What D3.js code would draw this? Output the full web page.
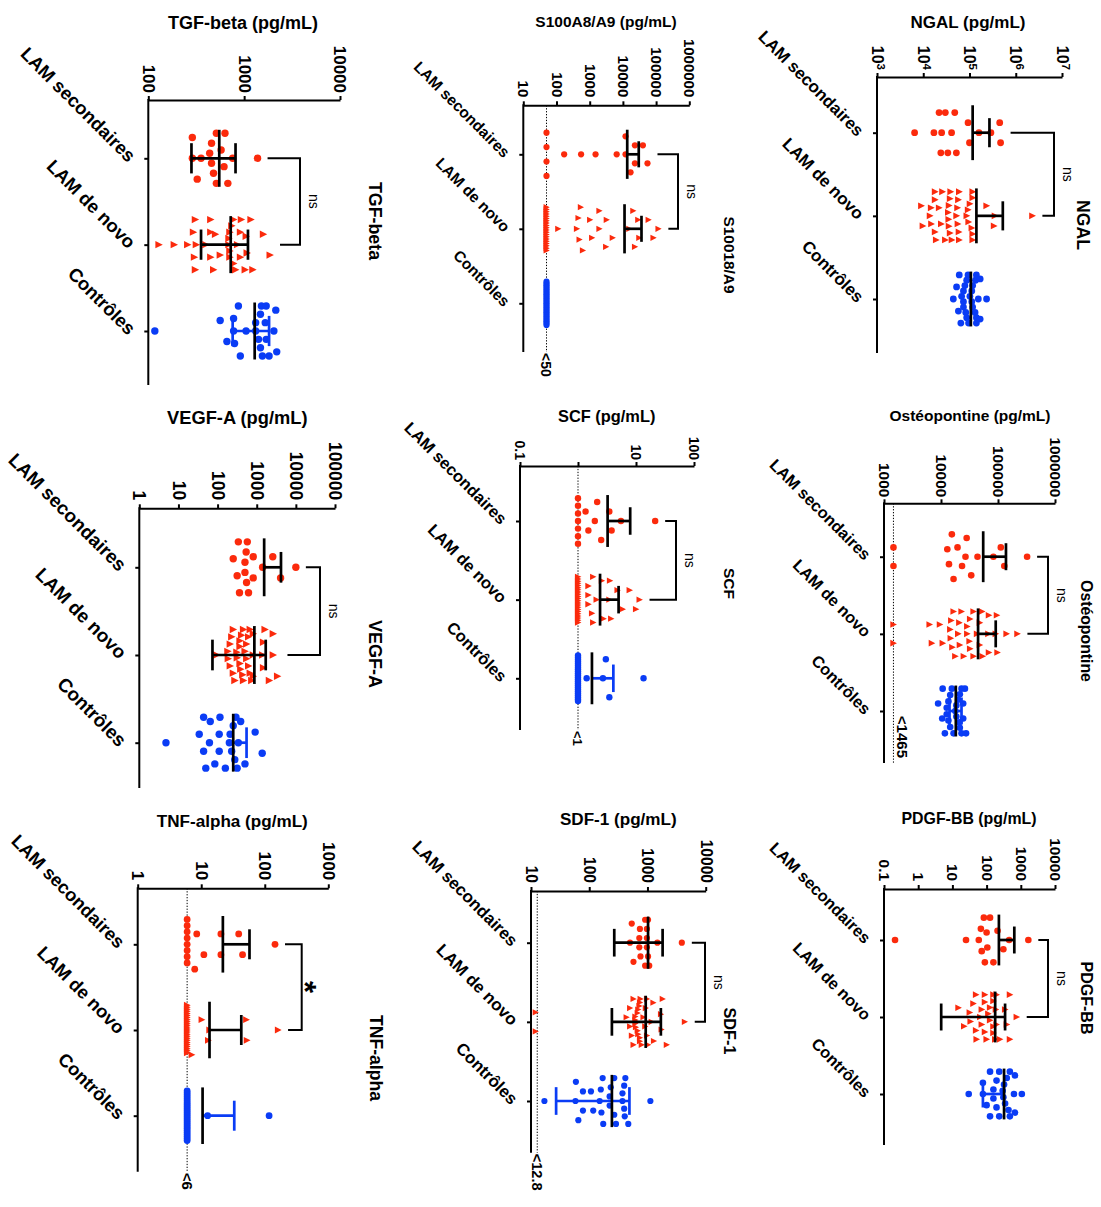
<!DOCTYPE html>
<html><head><meta charset="utf-8">
<script src="https://cdn.jsdelivr.net/npm/d3@7"></script>
<style>body{margin:0;background:#fff}svg{display:block}text{font-family:"Liberation Sans",Arial,Helvetica,sans-serif}</style>
</head><body><svg id="chart" width="1101" height="1207"></svg>
<script>
const categories = ["LAM secondaires", "LAM de novo", "Contrôles"];

// ---------- NGAL ----------
const ngalTicks = [1e3, 1e4, 1e5, 1e6, 1e7];
const ngalTickLabels = ["10^3", "10^4", "10^5", "10^6", "10^7"];
const ngalSecondaires = [24000, 52000, 41000, 17000, 93000, 450000, 6500, 30000, 160000, 290000, 22000, 100000, 470000, 34000, 25000, 48000];
const ngalDeNovo = [15000, 26000, 55000, 60000, 112000, 14000, 22000, 38000, 59000, 117000, 355000, 36000, 56000, 102000, 9100, 18000, 35500, 87000, 234000, 19000, 38000, 93000, 2290000, 9800, 18000, 34700, 57500, 95500, 117000, 36000, 14800, 24500, 39000, 117000, 339000, 41700, 18000, 30000, 52500, 60000, 117000];
const ngalControles = [83000, 132000, 234000, 74000, 117000, 65000, 93000, 155000, 57500, 87000, 135000, 44700, 74000, 112000, 52500, 87000, 141000, 60000, 95500, 141000, 67600, 102000, 141000, 74000, 112000, 170000, 79400, 117000, 170000];
const ngalStats = [[117000, null, 270000], [141000, null, 525000], [107000, null, null]]; // [centre, bas, haut]

// ---------- S100A8/A9 ----------
const s100Ticks = [10, 100, 1000, 10000, 100000, 1000000];
const s100TickLabels = ["10", "100", "1000", "10000", "100000", "1000000"];
const s100Secondaires = [50, 50, 50, 50, 170, 550, 1500, 6500, 23000, 12000, 40000, 12000, 55000, 17000, 23000];
const s100DeNovo = [50, 50, 50, 50, 50, 50, 50, 50, 50, 50, 50, 50, 50, 50, 50, 50, 50, 50, 50, 50, 620, 1950, 23000, 490, 1020, 3100, 15500, 59000, 112, 410, 4900, 31000, 117000, 457, 1175, 3240, 20400, 83000, 537, 1950, 28800];
const s100Controles = [50, 50, 50, 50, 50, 50, 50, 50, 50, 50, 50, 50, 50, 50, 50, 50, 50, 50, 50, 50, 50, 50, 50, 50, 50];
const s100Stats = [[13500, null, 30000], [11200, null, 36300], null];

// ---------- TGF-beta ----------
const tgfTicks = [100, 1000, 10000];
const tgfTickLabels = ["100", "1000", "10000"];
const tgfSecondaires = [324, 513, 759, 457, 631, 288, 437, 575, 1380, 288, 457, 617, 479, 355, 513, 676];
const tgfDeNovo = [316, 501, 708, 933, 1175, 912, 302, 447, 692, 851, 1047, 1585, 309, 447, 562, 776, 1023, 129, 186, 257, 398, 708, 1862, 776, 295, 447, 692, 813, 708, 1072, 309, 479, 741, 912, 1230];
const tgfControles = [912, 1318, 1698, 1660, 2188, 794, 1514, 562, 117, 776, 1047, 1479, 2042, 661, 1549, 776, 2138, 1698, 871, 1318, 1820, 1413, 1479];
const tgfStats = [[550, 282, 813], [724, 355, 1096], [1288, 759, 1820]];

// ---------- Ostéopontine ----------
const ostTicks = [1000, 10000, 100000, 1000000];
const ostTickLabels = ["1000", "10000", "100000", "1000000"];
const ostSecondaires = [1465, 1465, 15500, 26900, 12900, 19500, 33900, 112000, 83000, 324000, 13800, 23400, 43700, 129000, 16600, 28200];
const ostDeNovo = [1465, 1465, 14800, 20000, 32400, 47900, 91200, 14500, 28800, 97700, 15800, 32400, 69200, 6300, 9550, 22900, 37200, 21400, 47900, 67600, 141000, 219000, 10700, 25100, 42700, 6900, 17800, 28800, 69200, 16600, 31600, 52500, 15100, 20900, 37200, 53700, 95500];
const ostControles = [10700, 20900, 26300, 14500, 22900, 8900, 13500, 21400, 24500, 12600, 18600, 14500, 10500, 22900, 16600, 24500, 12600, 18600, 27500, 15500, 21400, 13500, 17800, 20000, 11700];
const ostStats = [[55000, null, 138000], [44700, null, 91200], [18200, 14100, 22900]];

// ---------- SCF ----------
const scfTicks = [0.1, 1, 10, 100];
const scfTickLabels = ["0.1", "", "10", "100"];
const scfSecondaires = [1, 1, 1, 1, 1, 1, 1, 1.95, 2.14, 3.47, 1.35, 5.5, 21.4, 2.51, 3.8, 1.51];
const scfDeNovo = [1, 1, 1, 1, 1, 1, 1, 1, 1, 1, 1, 1, 1, 1, 1, 1, 1, 1, 1, 1, 1, 1, 2.09, 3.55, 1.82, 2.75, 5.89, 7.76, 1.51, 1.51, 3.72, 11.5, 1.51, 2.57, 10, 1.74, 4.79, 3.47, 1.82];
const scfControles = [1, 1, 1, 1, 1, 1, 1, 1, 1, 1, 1, 1, 1, 1, 1, 1, 1, 1, 1, 1, 1, 1, 1, 1, 1.41, 2.69, 3.47, 3.02, 13.5];
const scfStats = [[3.24, null, 7.94], [2.40, null, 5.01], [1.74, null, 4.07]];

// ---------- VEGF-A ----------
const vegfTicks = [1, 10, 100, 1000, 10000, 100000];
const vegfTickLabels = ["1", "10", "100", "1000", "10000", "100000"];
const vegfSecondaires = [501, 813, 339, 575, 251, 537, 2570, 1413, 10000, 316, 550, 4074, 363, 617, 501, 813];
const vegfDeNovo = [182, 437, 813, 1413, 2630, 372, 676, 251, 550, 95, 372, 2089, 229, 501, 209, 372, 813, 1479, 251, 617, 2630, 209, 316, 617, 407, 1479, 186, 389, 741, 1622, 3388, 309, 457, 676, 550, 813, 275, 457];
const vegfControles = [62, 158, 339, 44, 110, 275, 912, 34, 200, 4.8, 85, 501, 44, 209, 1380, 50, 110, 316, 65, 115, 389, 251, 229, 295];
const vegfStats = [[1549, null, 4169], [871, 74, 1698], [251, null, 550]];

// ---------- PDGF-BB ----------
const pdgfTicks = [0.1, 1, 10, 100, 1000, 10000];
const pdgfTickLabels = ["0.1", "1", "10", "100", "1000", "10000"];
const pdgfSecondaires = [100, 158, 89, 83, 126, 309, 0.21, 25, 59, 1660, 68, 457, 72, 105, 209];
const pdgfDeNovo = [49, 89, 186, 347, 158, 72, 759, 32, 158, 22, 65, 126, 15, 41, 100, 195, 479, 72, 158, 34, 195, 49, 89, 158, 479, 51, 89, 178, 389, 126, 245, 112];
const pdgfControles = [158, 324, 676, 100, 234, 479, 78, 195, 676, 30, 126, 437, 78, 195, 1072, 126, 234, 479, 158, 309, 631, 295, 347, 389];
const pdgfStats = [[229, null, 646], [178, 4.7, 347], [324, 78, null]];

// ---------- SDF-1 ----------
const sdfTicks = [10, 100, 1000, 10000];
const sdfTickLabels = ["10", "100", "1000", "10000"];
const sdfSecondaires = [759, 977, 724, 1023, 575, 912, 501, 1023, 1479, 3890, 537, 977, 724, 977, 741, 912, 1072];
const sdfDeNovo = [12, 12, 676, 912, 1288, 1820, 617, 741, 575, 724, 501, 1023, 1698, 692, 537, 437, 741, 977, 4365, 575, 741, 617, 1175, 1738, 617, 794, 676, 977, 692, 1259, 2138, 501, 851, 631, 759, 933];
const sdfControles = [78, 224, 372, 407, 65, 162, 269, 398, 107, 151, 234, 372, 17, 58, 174, 1122, 117, 158, 269, 417, 59, 170, 288, 78, 224, 398, 468];
const sdfStats = [[1023, 269, 1820], [933, 245, 1698], [245, 27, 490]];

// ---------- TNF-alpha ----------
const tnfTicks = [1, 10, 100, 1000];
const tnfTickLabels = ["1", "10", "100", "1000"];
const tnfSecondaires = [6, 6, 6, 6, 6, 6, 6, 6, 7.9, 8.5, 11, 20.4, 38.9, 20.4, 44.7, 145];
const tnfDeNovo = [6, 6, 6, 6, 6, 6, 6, 6, 6, 6, 6, 6, 6, 6, 6, 6, 6, 6, 6, 6, 6, 6, 6, 6, 7.1, 13.5, 10.2, 12.9, 51.3, 52.5, 162];
const tnfControles = [6, 6, 6, 6, 6, 6, 6, 6, 6, 6, 6, 6, 6, 6, 6, 6, 6, 6, 6, 6, 6, 6, 6, 6, 6, 6, 12.6, 117];
const tnfStats = [[21.9, null, 57.5], [13.5, null, 42.7], [10.5, null, 33.1]];

// ---------- panels ----------
const panels = [
  {key: "ngal", title: "NGAL (pg/mL)", side: "NGAL", ticks: ngalTicks, labels: ngalTickLabels, groups: [ngalSecondaires, ngalDeNovo, ngalControles], stats: ngalStats, sig: "ns", lod: null},
  {key: "s100", title: "S100A8/A9 (pg/mL)", side: "S10018/A9", ticks: s100Ticks, labels: s100TickLabels, groups: [s100Secondaires, s100DeNovo, s100Controles], stats: s100Stats, sig: "ns", lod: {value: 50, label: "<50"}},
  {key: "tgf", title: "TGF-beta (pg/mL)", side: "TGF-beta", ticks: tgfTicks, labels: tgfTickLabels, groups: [tgfSecondaires, tgfDeNovo, tgfControles], stats: tgfStats, sig: "ns", lod: null},
  {key: "ost", title: "Ostéopontine (pg/mL)", side: "Ostéopontine", ticks: ostTicks, labels: ostTickLabels, groups: [ostSecondaires, ostDeNovo, ostControles], stats: ostStats, sig: "ns", lod: {value: 1465, label: "<1465"}},
  {key: "scf", title: "SCF (pg/mL)", side: "SCF", ticks: scfTicks, labels: scfTickLabels, groups: [scfSecondaires, scfDeNovo, scfControles], stats: scfStats, sig: "ns", lod: {value: 1, label: "<1"}},
  {key: "vegf", title: "VEGF-A (pg/mL)", side: "VEGF-A", ticks: vegfTicks, labels: vegfTickLabels, groups: [vegfSecondaires, vegfDeNovo, vegfControles], stats: vegfStats, sig: "ns", lod: null},
  {key: "pdgf", title: "PDGF-BB (pg/mL)", side: "PDGF-BB", ticks: pdgfTicks, labels: pdgfTickLabels, groups: [pdgfSecondaires, pdgfDeNovo, pdgfControles], stats: pdgfStats, sig: "ns", lod: null},
  {key: "sdf", title: "SDF-1 (pg/mL)", side: "SDF-1", ticks: sdfTicks, labels: sdfTickLabels, groups: [sdfSecondaires, sdfDeNovo, sdfControles], stats: sdfStats, sig: "ns", lod: {value: 12.8, label: "<12.8"}},
  {key: "tnf", title: "TNF-alpha (pg/mL)", side: "TNF-alpha", ticks: tnfTicks, labels: tnfTickLabels, groups: [tnfSecondaires, tnfDeNovo, tnfControles], stats: tnfStats, sig: "*", lod: {value: 6, label: "<6"}}
];

// ---------- layout (positions / sizes) ----------
const layouts = {
  ngal: {x0: 877, x1: 1062, axisY: 77, bottom: 353, c0: 132.7, c2: 299, title: [968, 28.3, 17], tickFont: 16, tickOff: 7, catFont: 17, side: [1083, 225, 17.6], bracketX: 1054, r: 3.4},
  s100: {x0: 523.3, x1: 689.3, axisY: 105.3, bottom: 352, c0: 154.3, c2: 303.3, title: [606, 26.7, 15.5], tickFont: 15, tickOff: 8, catFont: 15.5, side: [730, 255, 15.4], bracketX: 678, r: 3.1, lodFont: 14, lodMode: "below"},
  tgf: {x0: 148.3, x1: 340, axisY: 100, bottom: 385, c0: 158.3, c2: 331, title: [243, 29.3, 18], tickFont: 17, tickOff: 7, catFont: 18.5, side: [375, 221, 17.8], bracketX: 300, r: 3.7},
  ost: {x0: 884, x1: 1055, axisY: 503.3, bottom: 763, c0: 556.7, c2: 711, title: [970, 420.7, 15.5], tickFont: 15.4, tickOff: 6, catFont: 16.3, side: [1087, 631, 15.8], bracketX: 1048, r: 3.3, lodFont: 15, lodMode: "inside"},
  scf: {x0: 520, x1: 694, axisY: 466, bottom: 730, c0: 521, c2: 678.3, title: [606.7, 422.3, 16.4], tickFont: 14, tickOff: 6, catFont: 16.5, side: [730, 583.5, 15.5], bracketX: 676, r: 3.2, lodFont: 13, lodMode: "below"},
  vegf: {x0: 139.3, x1: 335, axisY: 508.3, bottom: 788, c0: 567.3, c2: 742.7, title: [237.3, 424.3, 18.3], tickFont: 17.5, tickOff: 8, catFont: 19, side: [375, 654, 18], bracketX: 320, r: 3.7},
  pdgf: {x0: 884, x1: 1055, axisY: 889, bottom: 1145, c0: 940, c2: 1094, title: [969, 824.3, 15.9], tickFont: 15.4, tickOff: 8, catFont: 16.3, side: [1086.7, 998, 16], bracketX: 1048, r: 3.3},
  sdf: {x0: 531, x1: 705.7, axisY: 891, bottom: 1152.7, c0: 942.7, c2: 1101, title: [618.3, 825, 17.1], tickFont: 15.6, tickOff: 8, catFont: 17, side: [730, 1031, 16.3], bracketX: 705, r: 3.1, lodFont: 14.6, lodMode: "below"},
  tnf: {x0: 137.7, x1: 328.3, axisY: 888.3, bottom: 1171.7, c0: 944.3, c2: 1115.7, title: [232.3, 826.7, 17.1], tickFont: 17.2, tickOff: 8, catFont: 18.3, side: [376.7, 1058, 17.6], bracketX: 301.7, r: 3.4, lodFont: 15, lodMode: "below"}
};

const RED = "#fb2a0c", BLUE = "#0a3cf5";
const svg = d3.select("#chart");

function swarm(values, x, yc, W, bw) {
  const pts = values.map(v => ({v, px: x(v)})).sort((a, b) => a.px - b.px);
  const bins = [];
  let cur = null;
  pts.forEach(p => {
    if (!cur || p.px - cur.start > bw) { cur = {start: p.px, items: []}; bins.push(cur); }
    cur.items.push(p);
  });
  const out = [];
  bins.forEach(b => {
    const n = b.items.length;
    const s = n > 1 ? Math.min(W / 2.4, W / (n - 1)) : 0;
    const slots = d3.range(n).map(i => (i - (n - 1) / 2) * s);
    slots.sort((a, c) => Math.abs(a) - Math.abs(c) || a - c);
    b.items.forEach((p, i) => out.push({v: p.v, px: p.px, py: yc + slots[i]}));
  });
  return out;
}

function drawPanel(p) {
  const L = layouts[p.key];
  const g = svg.append("g");
  const x = d3.scaleLog().domain([p.ticks[0], p.ticks[p.ticks.length - 1]]).range([L.x0, L.x1]);
  const y = d3.scalePoint().domain(categories).range([L.c0, L.c2]);
  const step = y.step();
  const W = step * 0.58;

  // value axis (top)
  const ax = g.append("g").attr("transform", `translate(0,${L.axisY})`)
    .call(d3.axisTop(x).tickValues(p.ticks).tickSize(4).tickSizeOuter(0).tickFormat(() => ""));
  ax.select(".domain").attr("stroke", "#000").attr("stroke-width", 2);
  ax.selectAll(".tick line").attr("stroke", "#000").attr("stroke-width", 2);
  ax.selectAll(".tick").each(function (d, i) {
    const lab = p.labels[i];
    const t = d3.select(this).select("text")
      .attr("transform", "rotate(90)").attr("x", -L.tickOff).attr("y", 0).attr("dy", "0.36em")
      .attr("text-anchor", "end").attr("font-size", L.tickFont).attr("font-weight", "bold")
      .attr("fill", "#000").attr("font-family", "Liberation Sans, Arial, sans-serif");
    if (lab.includes("^")) {
      const [base, exp] = lab.split("^");
      t.append("tspan").text(base);
      t.append("tspan").attr("dy", "-0.45em").attr("font-size", L.tickFont * 0.72).text(exp);
    } else t.text(lab);
  });

  // category axis (left)
  g.append("line").attr("x1", L.x0).attr("x2", L.x0).attr("y1", L.axisY - 1).attr("y2", L.bottom)
    .attr("stroke", "#000").attr("stroke-width", 2);
  const cax = g.append("g").attr("transform", `translate(${L.x0},0)`)
    .call(d3.axisLeft(y).tickSize(4).tickSizeOuter(0));
  cax.select(".domain").remove();
  cax.selectAll(".tick line").attr("stroke", "#000").attr("stroke-width", 2);
  cax.selectAll(".tick text")
    .attr("x", 0).attr("y", 0).attr("dy", "0.35em")
    .attr("transform", "translate(-16,0) rotate(45)")
    .attr("text-anchor", "end").attr("font-size", L.catFont).attr("font-weight", "bold")
    .attr("fill", "#000").attr("font-family", "Liberation Sans, Arial, sans-serif");

  // LOD dotted line
  if (p.lod) {
    const lx = x(p.lod.value);
    g.append("line").attr("x1", lx).attr("x2", lx).attr("y1", L.axisY).attr("y2", L.bottom)
      .attr("stroke", "#000").attr("stroke-width", 1).attr("stroke-dasharray", "1.3,1.6");
    const lt = g.append("text").attr("font-size", L.lodFont).attr("font-weight", "bold").attr("dy", "0.36em").text(p.lod.label);
    if (L.lodMode === "below") {
      lt.attr("transform", `translate(${lx},${L.bottom + 1}) rotate(90)`).attr("text-anchor", "start");
    } else {
      lt.attr("transform", `translate(${lx + 8.5},${L.bottom - 5}) rotate(90)`).attr("text-anchor", "end");
    }
  }

  // points
  p.groups.forEach((vals, gi) => {
    const yc = y(categories[gi]);
    const pts = swarm(vals, x, yc, W, 2 * L.r + 0.8);
    const color = gi === 2 ? BLUE : RED;
    if (gi === 1) {
      const r = L.r;
      g.append("g").selectAll("path").data(pts).join("path")
        .attr("d", d => `M${d.px - r * 0.95},${d.py - r}L${d.px + r * 1.05},${d.py}L${d.px - r * 0.95},${d.py + r}Z`)
        .attr("fill", color);
    } else {
      g.append("g").selectAll("circle").data(pts).join("circle")
        .attr("cx", d => d.px).attr("cy", d => d.py).attr("r", L.r).attr("fill", color);
    }
  });

  // mean / error bars
  p.stats.forEach((st, gi) => {
    if (!st) return;
    const yc = y(categories[gi]);
    const [m, lo, hi] = st;
    const wc = gi === 2 ? BLUE : "#000";
    const mh = step * 0.33, ch = step * 0.175;
    const xa = x(lo != null ? lo : m), xb = x(hi != null ? hi : m);
    if (xb - xa > 0.5) g.append("line").attr("x1", xa).attr("x2", xb).attr("y1", yc).attr("y2", yc).attr("stroke", wc).attr("stroke-width", 2.7);
    [lo, hi].forEach(v => {
      if (v == null) return;
      g.append("line").attr("x1", x(v)).attr("x2", x(v)).attr("y1", yc - ch).attr("y2", yc + ch).attr("stroke", wc).attr("stroke-width", 2.7);
    });
    g.append("line").attr("x1", x(m)).attr("x2", x(m)).attr("y1", yc - mh).attr("y2", yc + mh).attr("stroke", "#000").attr("stroke-width", 2.7);
  });

  // significance bracket
  const y0 = y(categories[0]), y1 = y(categories[1]);
  const xa = x(d3.max(p.groups[0])) + 10, xb = x(d3.max(p.groups[1])) + 10;
  g.append("path").attr("d", `M${xa},${y0}H${L.bracketX}V${y1}H${xb}`)
    .attr("fill", "none").attr("stroke", "#000").attr("stroke-width", 2);
  const star = p.sig === "*";
  g.append("text").attr("transform", `translate(${L.bracketX + (star ? 12 : 14)},${(y0 + y1) / 2}) rotate(90)`)
    .attr("text-anchor", "middle").attr("dy", star ? "0.62em" : "0.36em")
    .attr("font-size", star ? 31 : 14).attr("font-weight", star ? "bold" : "normal").text(p.sig);

  // titles
  g.append("text").attr("x", L.title[0]).attr("y", L.title[1]).attr("text-anchor", "middle")
    .attr("font-size", L.title[2]).attr("font-weight", "bold").text(p.title);
  g.append("text").attr("transform", `translate(${L.side[0]},${L.side[1]}) rotate(90)`)
    .attr("text-anchor", "middle").attr("dy", "0.36em")
    .attr("font-size", L.side[2]).attr("font-weight", "bold").text(p.side);
}

panels.forEach(drawPanel);
</script></body></html>
